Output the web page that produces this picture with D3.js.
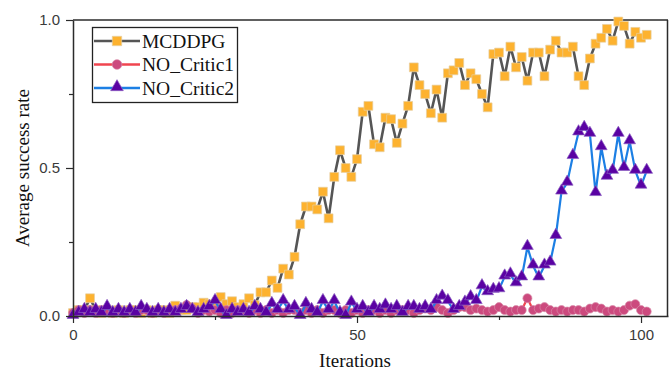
<!DOCTYPE html>
<html>
<head>
<meta charset="utf-8">
<script src="https://cdn.jsdelivr.net/npm/d3@7"></script>
<style>
  html, body { margin: 0; padding: 0; background: #fff; }
  svg { display: block; }
</style>
</head>
<body>
<svg id="chart" width="670" height="375"></svg>
<script>
// Training iterations shared by all three runs
const iterations = d3.range(0, 102);

// Average success rate per iteration
const mcddpg = [
  0.01, 0.02, 0.02, 0.06, 0.02, 0.01, 0.02, 0.01, 0.02, 0.01,
  0.02, 0.02, 0.01, 0.02, 0.01, 0.02, 0.02, 0.01, 0.035, 0.02,
  0.02, 0.03, 0.03, 0.045, 0.04, 0.035, 0.064, 0.04, 0.05, 0.03,
  0.04, 0.06, 0.037, 0.08, 0.08, 0.12, 0.095, 0.16, 0.14, 0.2,
  0.31, 0.37, 0.37, 0.36, 0.42, 0.33, 0.47, 0.56, 0.50, 0.47,
  0.53, 0.69, 0.71, 0.58, 0.57, 0.67, 0.665, 0.585, 0.65, 0.71,
  0.84, 0.78, 0.75, 0.685, 0.765, 0.67, 0.82, 0.83, 0.855, 0.78,
  0.82, 0.80, 0.75, 0.705, 0.885, 0.89, 0.81, 0.91, 0.84, 0.875,
  0.795, 0.89, 0.89, 0.81, 0.90, 0.93, 0.89, 0.89, 0.91, 0.81,
  0.78, 0.87, 0.92, 0.94, 0.97, 0.93, 0.995, 0.98, 0.92, 0.96,
  0.94, 0.95
];

const noCritic1 = [
  0.01, 0.02, 0.01, 0.02, 0.01, 0.02, 0.02, 0.01, 0.02, 0.01,
  0.02, 0.01, 0.02, 0.02, 0.01, 0.02, 0.01, 0.02, 0.02, 0.025,
  0.037, 0.025, 0.01, 0.02, 0.015, 0.02, 0.01, 0.02, 0.01, 0.02,
  0.02, 0.01, 0.02, 0.01, 0.02, 0.01, 0.02, 0.01, 0.02, 0.02,
  0.01, 0.02, 0.01, 0.02, 0.01, 0.02, 0.02, 0.01, 0.02, 0.01,
  0.02, 0.01, 0.02, 0.02, 0.01, 0.02, 0.01, 0.02, 0.02, 0.02,
  0.01, 0.02, 0.025, 0.02, 0.03, 0.02, 0.01, 0.02, 0.03, 0.03,
  0.02, 0.025, 0.02, 0.015, 0.02, 0.03, 0.02, 0.015, 0.02, 0.02,
  0.06, 0.02, 0.025, 0.03, 0.02, 0.015, 0.02, 0.015, 0.02, 0.02,
  0.015, 0.025, 0.03, 0.025, 0.015, 0.02, 0.015, 0.02, 0.035, 0.04,
  0.02, 0.015
];

const noCritic2 = [
  0.0, 0.01, 0.02, 0.01, 0.02, 0.01, 0.03, 0.01, 0.02, 0.01,
  0.02, 0.01, 0.03, 0.02, 0.01, 0.02, 0.01, 0.02, 0.01, 0.02,
  0.03, 0.02, 0.01, 0.02, 0.03, 0.05, 0.02, 0.0, 0.02, 0.01,
  0.02, 0.01, 0.03, 0.02, 0.01, 0.04, 0.02, 0.05, 0.02, 0.03,
  0.0, 0.04, 0.02, 0.01, 0.05, 0.02, 0.05, 0.01, 0.0, 0.045,
  0.02, 0.03, 0.01, 0.03, 0.02, 0.035, 0.02, 0.03, 0.01, 0.03,
  0.03, 0.02, 0.03, 0.02, 0.05, 0.065, 0.05, 0.02, 0.03, 0.045,
  0.063, 0.05, 0.1, 0.08, 0.088, 0.09, 0.133, 0.14, 0.11, 0.13,
  0.233, 0.17, 0.13, 0.17, 0.18, 0.27, 0.42, 0.45, 0.54, 0.62,
  0.635, 0.615, 0.415, 0.57, 0.47, 0.49, 0.615, 0.50, 0.59, 0.49,
  0.44, 0.49
];

const seriesNames = ["MCDDPG", "NO_Critic1", "NO_Critic2"];
const xTicks = [0, 50, 100];
const xMinorTicks = [25, 75];
const yTicks = [0.0, 0.5, 1.0];
const yMinorTicks = [0.25, 0.75];

const series = [
  { name: seriesNames[0], values: mcddpg,    line: "#555555", fill: "#FDB22F", stroke: "#e6cf9f", symbol: d3.symbolSquare,   size: 78 },
  { name: seriesNames[1], values: noCritic1, line: "#F0454F", fill: "#CC4A7E", stroke: "#d98aa8", symbol: d3.symbolCircle,   size: 64 },
  { name: seriesNames[2], values: noCritic2, line: "#1C7FE4", fill: "#5A02A3", stroke: "#8a5cc0", symbol: d3.symbolTriangle, size: 60 }
];

const svg = d3.select("#chart");
const W = 670, H = 375;
const margin = { left: 73, right: 2, top: 20, bottom: 59 };

const x = d3.scaleLinear().domain([0, 104.75]).range([margin.left, W - margin.right]);
const y = d3.scaleLinear().domain([0, 1]).range([H - margin.bottom, margin.top]);

const axisColor = "#2b2b2b";
const tickFont = "'Liberation Sans', Arial, sans-serif";
const titleFont = "'Liberation Serif', 'Times New Roman', serif";

// Plot frame (top and right edges)
svg.append("line")
  .attr("x1", x.range()[0]).attr("x2", x.range()[1])
  .attr("y1", y(1)).attr("y2", y(1))
  .attr("stroke", axisColor).attr("stroke-width", 1.5);
svg.append("line")
  .attr("x1", x.range()[1] - 0.5).attr("x2", x.range()[1] - 0.5)
  .attr("y1", y(1)).attr("y2", y(0))
  .attr("stroke", axisColor).attr("stroke-width", 1.5);

// Series: line then markers
const lineGen = d3.line()
  .x((d, i) => x(iterations[i]))
  .y(d => y(d));

series.forEach(s => {
  const g = svg.append("g");
  g.append("path")
    .datum(s.values)
    .attr("fill", "none")
    .attr("stroke", s.line)
    .attr("stroke-width", s.name === "MCDDPG" ? 2.6 : 2.2)
    .attr("stroke-linejoin", "round")
    .attr("d", lineGen);
  g.selectAll("path.mark")
    .data(s.values)
    .join("path")
    .attr("class", "mark")
    .attr("transform", (d, i) => `translate(${x(iterations[i])},${y(d) + (s.symbol === d3.symbolTriangle ? -1 : 0)})`)
    .attr("d", d3.symbol().type(s.symbol).size(s.size))
    .attr("fill", s.fill)
    .attr("stroke", s.stroke)
    .attr("stroke-width", 0.7);
});

// Axes
svg.append("g")
  .attr("transform", `translate(0,${y(0)})`)
  .call(d3.axisBottom(x).tickValues(xTicks).tickFormat(d3.format("d")).tickSizeInner(7).tickSizeOuter(0).tickPadding(6));
svg.append("g")
  .attr("transform", `translate(0,${y(0)})`)
  .call(d3.axisBottom(x).tickValues(xMinorTicks).tickFormat("").tickSizeInner(4).tickSizeOuter(0))
  .call(g => g.select(".domain").remove());

svg.append("g")
  .attr("transform", `translate(${x(0)},0)`)
  .call(d3.axisLeft(y).tickValues(yTicks).tickFormat(d3.format(".1f")).tickSizeInner(7).tickSizeOuter(0).tickPadding(6));
svg.append("g")
  .attr("transform", `translate(${x(0)},0)`)
  .call(d3.axisLeft(y).tickValues(yMinorTicks).tickFormat("").tickSizeInner(4).tickSizeOuter(0))
  .call(g => g.select(".domain").remove());

svg.selectAll(".domain").attr("stroke", axisColor).attr("stroke-width", 1.5);
svg.selectAll(".tick line").attr("stroke", axisColor).attr("stroke-width", 1.2);
svg.selectAll(".tick text")
  .attr("fill", "#3a3a3a")
  .style("font-family", tickFont)
  .style("font-size", "15px");

// Axis titles
svg.append("text")
  .attr("x", 355).attr("y", 367)
  .attr("text-anchor", "middle")
  .style("font-family", titleFont)
  .style("font-size", "19px")
  .attr("fill", "#111")
  .text("Iterations");

svg.append("text")
  .attr("transform", "translate(29,168) rotate(-90)")
  .attr("text-anchor", "middle")
  .style("font-family", titleFont)
  .style("font-size", "19px")
  .attr("fill", "#111")
  .text("Average success rate");

// Legend
const legend = svg.append("g");
legend.append("rect")
  .attr("x", 92.5).attr("y", 27.5)
  .attr("width", 145).attr("height", 75)
  .attr("fill", "#fff")
  .attr("stroke", "#222").attr("stroke-width", 1.3);

series.forEach((s, i) => {
  const cy = 41 + i * 23.5;
  legend.append("line")
    .attr("x1", 94).attr("x2", 140)
    .attr("y1", cy).attr("y2", cy)
    .attr("stroke", s.line).attr("stroke-width", 2.4);
  legend.append("path")
    .attr("transform", `translate(117,${cy + (s.symbol === d3.symbolTriangle ? -1 : 0)})`)
    .attr("d", d3.symbol().type(s.symbol).size(s.size + 10))
    .attr("fill", s.fill)
    .attr("stroke", s.stroke)
    .attr("stroke-width", 0.7);
  legend.append("text")
    .attr("x", 142).attr("y", cy + 6.5)
    .style("font-family", titleFont)
    .style("font-size", "19.5px")
    .attr("fill", "#111")
    .text(s.name);
});
</script>
</body>
</html>
